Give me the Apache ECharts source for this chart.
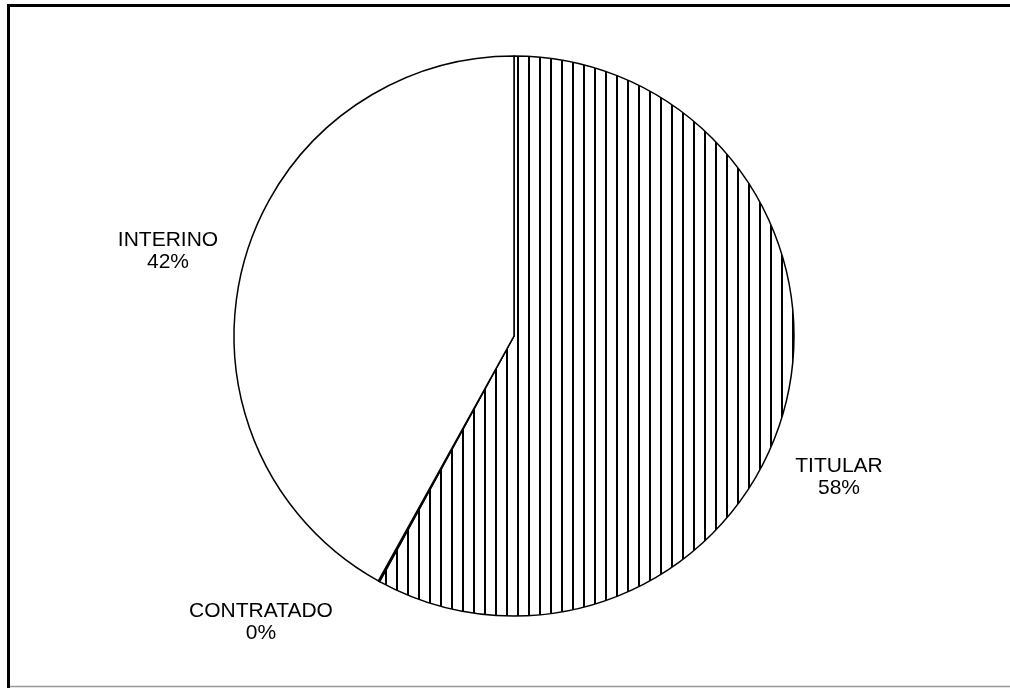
<!DOCTYPE html>
<html>
<head>
<meta charset="utf-8">
<script src="https://cdn.jsdelivr.net/npm/echarts@6/dist/echarts.min.js"></script>
<style>
html,body{margin:0;padding:0;background:#fff;}
#chart{width:1010px;height:688px;}
</style>
</head>
<body>
<div id="chart"></div>
<script>
const categories = ['TITULAR', 'CONTRATADO', 'INTERINO'];
const values = [57.9, 0.08, 41.9];

// vertical stripe pattern
const pc = document.createElement('canvas');
pc.width = 11; pc.height = 4;
const pctx = pc.getContext('2d');
pctx.fillStyle = '#fff';
pctx.fillRect(0, 0, 11, 4);
pctx.fillStyle = '#000';
pctx.fillRect(0, 0, 2, 4);

const fills = [{image: pc, repeat: 'repeat'}, '#ffffff', '#ffffff'];
const labelPos = [[839, 477], [261, 622], [168, 251]];

const chart = echarts.init(document.getElementById('chart'), null, {renderer: 'canvas'});
chart.setOption({
  backgroundColor: '#ffffff',
  animation: false,
  graphic: [
    {type: 'rect', shape: {x: 8.5, y: 5.5, width: 1010, height: 700}, style: {fill: 'none', stroke: '#000', lineWidth: 3}, z: 10},
    {type: 'line', shape: {x1: 10, y1: 686.5, x2: 1010, y2: 686.5}, style: {stroke: '#999', lineWidth: 1.5}, z: 11}
  ],
  series: [{
    type: 'pie',
    center: [514, 336],
    radius: [0, 280],
    startAngle: 90,
    clockwise: true,
    percentPrecision: 0,
    minAngle: 0,
    avoidLabelOverlap: false,
    itemStyle: {borderColor: '#000', borderWidth: 1.5},
    emphasis: {disabled: true},
    label: {
      show: true,
      formatter: '{b}\n{d}%',
      color: '#000',
      fontFamily: 'Liberation Sans, Arial, sans-serif',
      fontSize: 21,
      lineHeight: 22,
      align: 'center'
    },
    labelLine: {show: false},
    labelLayout: function (params) {
      const p = labelPos[params.dataIndex];
      return {x: p[0], y: p[1], align: 'center', verticalAlign: 'middle'};
    },
    data: categories.map((c, i) => ({name: c, value: values[i], itemStyle: {color: fills[i]}}))
  }]
});
</script>
</body>
</html>
